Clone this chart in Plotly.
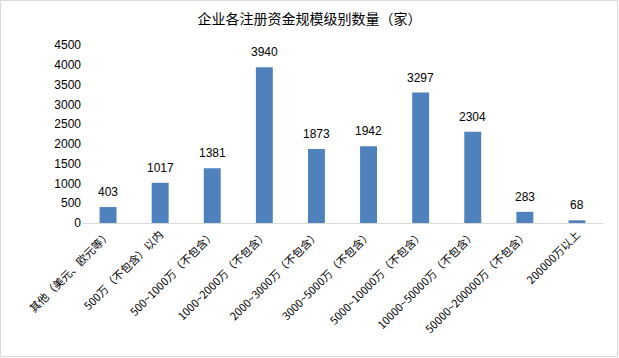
import plotly.graph_objects as go

categories = ["其他（美元、欧元等）", "500万（不包含）以内", "500~1000万（不包含）",
              "1000~2000万（不包含）", "2000~3000万（不包含）", "3000~5000万（不包含）",
              "5000~10000万（不包含）", "10000~50000万（不包含）", "50000~200000万（不包含）",
              "200000万以上"]
values = [403, 1017, 1381, 3940, 1873, 1942, 3297, 2304, 283, 68]
y_ticks = [0, 500, 1000, 1500, 2000, 2500, 3000, 3500, 4000, 4500]

font_family = "Noto Sans CJK SC, Liberation Sans, sans-serif"

fig = go.Figure()
fig.add_trace(go.Bar(
    x=categories, y=values,
    marker=dict(color="#4F81BD", line=dict(width=0)),
    hoverinfo="skip",
))
for c, v in zip(categories, values):
    fig.add_annotation(x=c, y=v, text=str(v), showarrow=False,
                       yanchor="middle", yshift=15,
                       font=dict(size=12, color="#000000", family="Liberation Sans, Arial"))

W, H = 619, 358
ml, mr, mt, mb = 82, 16, 45, 135

fig.update_layout(
    width=W, height=H,
    margin=dict(l=ml, r=mr, t=mt, b=mb),
    paper_bgcolor="white", plot_bgcolor="white",
    bargap=0.675,
    showlegend=False,
    title=dict(text="企业各注册资金规模级别数量（家）", x=0.5, xanchor="center",
               y=1 - 19 / H, yanchor="middle",
               font=dict(size=14, color="#000000", family=font_family)),
    font=dict(family=font_family, color="#000000"),
    xaxis=dict(tickangle=-45, tickfont=dict(size=11, color="#000000", family=font_family),
               showline=True, linecolor="#d9d9d9", linewidth=1, ticks="",
               showgrid=False, automargin=False),
    yaxis=dict(range=[0, 4500], tickvals=y_ticks, showgrid=False, zeroline=False,
               showline=False, ticks="", automargin=False,
               tickfont=dict(size=12, color="#000000", family="Liberation Sans, Arial")),
    shapes=[dict(type="rect", xref="paper", yref="paper",
                 x0=-(ml - 0.5) / (W - ml - mr), x1=1 + (mr - 1.5) / (W - ml - mr),
                 y0=-(mb - 1.5) / (H - mt - mb), y1=1 + (mt - 0.5) / (H - mt - mb),
                 line=dict(color="#d9d9d9", width=1))],
)

fig.write_html("out.html", config={"displayModeBar": False},
               post_script="document.body.style.margin='0';document.body.style.overflow='hidden';")
